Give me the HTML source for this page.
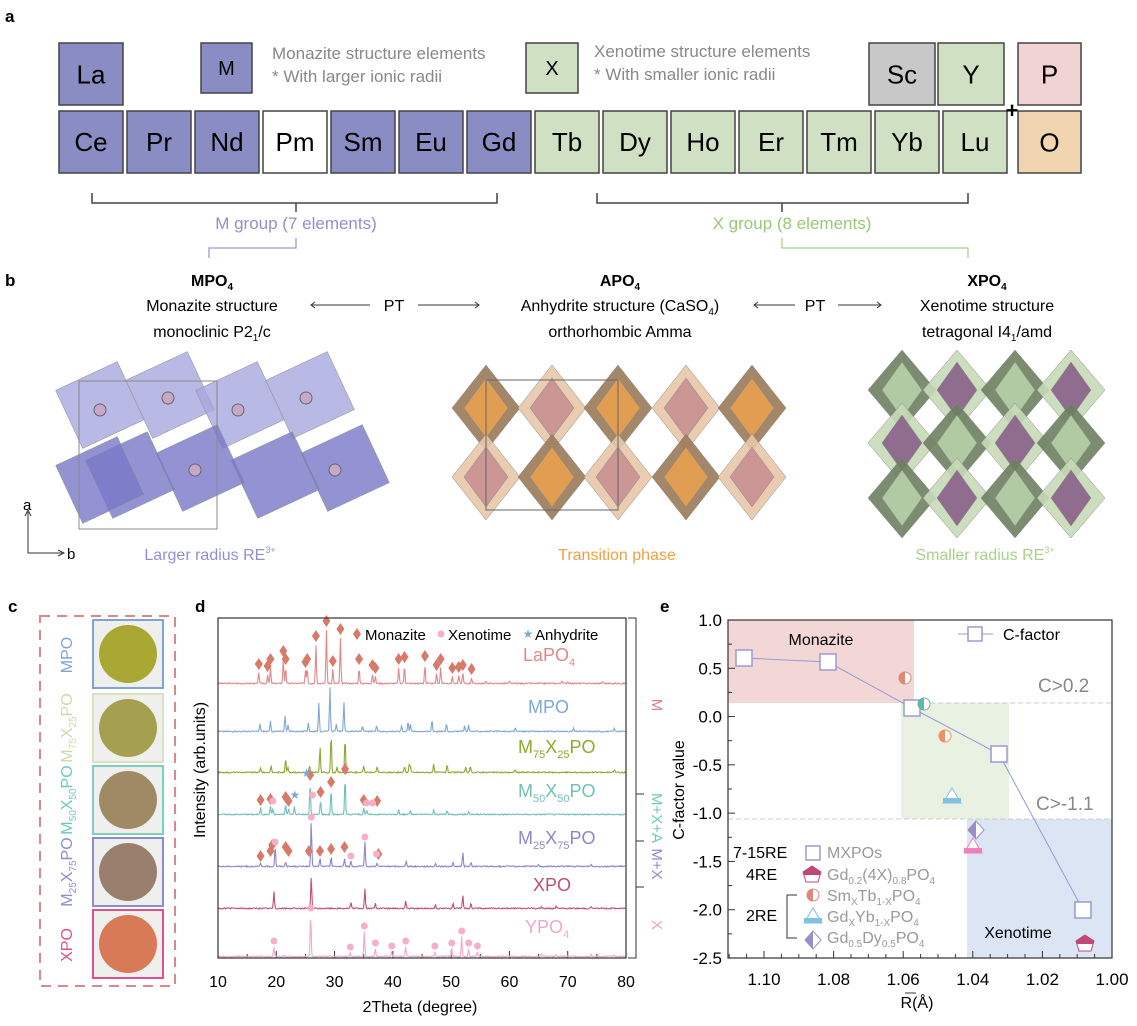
<!DOCTYPE html><html><head><meta charset="utf-8"><style>
body{margin:0;background:#fff}
svg{display:block;font-family:"Liberation Sans",sans-serif}
</style></head><body>
<svg id="s" width="1137" height="1026" viewBox="0 0 1137 1026" xmlns="http://www.w3.org/2000/svg">
<g font-weight="bold" font-size="17"><text x="5" y="22">a</text><text x="5" y="286">b</text><text x="8" y="612">c</text><text x="195" y="612">d</text><text x="660" y="612">e</text></g>
<g id="pa" stroke="#444" stroke-width="1.5" font-size="26" text-anchor="middle"></g>
<g font-size="17" fill="#888">
<text x="272" y="59">Monazite structure elements</text><text x="272" y="82">* With larger ionic radii</text>
<text x="594" y="57">Xenotime structure elements</text><text x="594" y="80">* With smaller ionic radii</text></g>
<text x="1012" y="118" font-size="22" font-weight="bold" text-anchor="middle">+</text>
<g fill="none" stroke="#444" stroke-width="1.5">
<path d="M92 193V203H497V193M296 203V212"/><path d="M597 193V203H968V193M782 203V212"/></g>
<path d="M296 238V248H209V258" fill="none" stroke="#9a9ad6" stroke-width="1.3"/>
<path d="M782 238V248H968V258" fill="none" stroke="#a8d08a" stroke-width="1.3"/>
<text x="296" y="229" font-size="17" fill="#9090cc" text-anchor="middle">M group (7 elements)</text>
<text x="792" y="229" font-size="17" fill="#98c878" text-anchor="middle">X group (8 elements)</text>
<g id="pb"></g>
<g font-size="16" text-anchor="middle">
<text x="212" y="286" font-weight="bold">MPO<tspan font-size="10" dy="4">4</tspan></text>
<text x="212" y="311">Monazite structure</text><text x="212" y="337">monoclinic P2<tspan font-size="10" dy="4">1</tspan><tspan dy="-4">/c</tspan></text>
<text x="620" y="286" font-weight="bold">APO<tspan font-size="10" dy="4">4</tspan></text>
<text x="620" y="311">Anhydrite structure (CaSO<tspan font-size="10" dy="4">4</tspan><tspan dy="-4">)</tspan></text><text x="620" y="337">orthorhombic Amma</text>
<text x="987" y="286" font-weight="bold">XPO<tspan font-size="10" dy="4">4</tspan></text>
<text x="987" y="311">Xenotime structure</text><text x="987" y="337">tetragonal I4<tspan font-size="10" dy="4">1</tspan><tspan dy="-4">/amd</tspan></text>
<text x="394" y="311">PT</text><text x="815" y="311">PT</text></g>
<g stroke="#333" stroke-width="1" fill="none"><path d="M312 305H370M315 302L311 305L315 308M418 305H478M475 302L479 305L475 308M755 305H795M758 302L754 305L758 308M838 305H880M877 302L881 305L877 308"/>
<path d="M28 512V553H62M25 516L28 510L31 516M58 550L64 553L58 556"/></g>
<text x="23" y="510" font-size="15">a</text><text x="67" y="559" font-size="15">b</text>
<g font-size="16" text-anchor="middle"><text x="210" y="560" fill="#9090d0">Larger radius RE<tspan font-size="9" dy="-7">3+</tspan></text>
<text x="617" y="560" fill="#f0a040">Transition phase</text>
<text x="985" y="560" fill="#a8d08a">Smaller radius RE<tspan font-size="9" dy="-7">3+</tspan></text></g>
<!-- panel c -->
<rect x="40" y="616" width="135" height="370" fill="none" stroke="#d88a8a" stroke-width="2" stroke-dasharray="10,7"/>
<g id="pc"></g>
<g font-size="16" text-anchor="middle">
<text transform="translate(72,655) rotate(-90)" fill="#7fa3d6">MPO</text>
<text transform="translate(72,728) rotate(-90)" fill="#c8dca8">M<tspan font-size="10" dy="4">75</tspan><tspan dy="-4">X</tspan><tspan font-size="10" dy="4">25</tspan><tspan dy="-4">PO</tspan></text>
<text transform="translate(72,800) rotate(-90)" fill="#6ccab8">M<tspan font-size="10" dy="4">50</tspan><tspan dy="-4">X</tspan><tspan font-size="10" dy="4">50</tspan><tspan dy="-4">PO</tspan></text>
<text transform="translate(72,872) rotate(-90)" fill="#8a8ed0">M<tspan font-size="10" dy="4">25</tspan><tspan dy="-4">X</tspan><tspan font-size="10" dy="4">75</tspan><tspan dy="-4">PO</tspan></text>
<text transform="translate(72,945) rotate(-90)" fill="#e0508a">XPO</text></g>
<!-- panel d -->
<g id="pd"></g>
<rect x="218" y="618" width="408" height="340" fill="none" stroke="#333" stroke-width="1.2"/>
<path d="M628 618H636V958H628M636 794H644M636 841H644M636 887H644" fill="none" stroke="#333"/>
<g font-size="15" text-anchor="middle">
<text transform="translate(652,705) rotate(90)" fill="#e08080">M</text>
<text transform="translate(652,818) rotate(90)" fill="#6ccab8">M+X+A</text>
<text transform="translate(652,864) rotate(90)" fill="#8a8ed0">M+X</text>
<text transform="translate(652,925) rotate(90)" fill="#f0a0c8">X</text></g>
<g font-size="15"><text x="365" y="640">Monazite</text><text x="448" y="640">Xenotime</text><text x="535" y="640">Anhydrite</text></g>
<text transform="translate(205,770) rotate(-90)" font-size="16" text-anchor="middle">Intensity (arb.units)</text>
<text x="420" y="1012" font-size="16" text-anchor="middle">2Theta (degree)</text>
<!-- panel e -->
<rect x="728" y="620" width="186" height="83" fill="#f3d7d7"/>
<rect x="901" y="703" width="108" height="116" fill="#e9f1e3"/>
<rect x="967" y="819" width="145" height="139" fill="#dce5f3"/>
<path d="M914 703H1112M728 819H1112" stroke="#ccc" stroke-dasharray="5,3"/>
<rect x="728" y="620" width="384" height="338" fill="none" stroke="#333" stroke-width="1.2"/>
<g id="pe"></g>
<text x="821" y="645" font-size="16" text-anchor="middle">Monazite</text>
<text x="1018" y="938" font-size="16" text-anchor="middle">Xenotime</text>
<text x="1003" y="640" font-size="16">C-factor</text>
<text x="1038" y="692" font-size="19" fill="#888">C&gt;0.2</text>
<text x="1036" y="810" font-size="19" fill="#888">C&gt;-1.1</text>
<g font-size="16"><text x="733" y="858">7-15RE</text><text x="746" y="880">4RE</text><text x="746" y="921">2RE</text>
<g fill="#999"><text x="827" y="858">MXPOs</text>
<text x="827" y="880">Gd<tspan font-size="10" dy="4">0.2</tspan><tspan dy="-4">(4X)</tspan><tspan font-size="10" dy="4">0.8</tspan><tspan dy="-4">PO</tspan><tspan font-size="10" dy="4">4</tspan></text>
<text x="827" y="901">Sm<tspan font-size="10" dy="4">X</tspan><tspan dy="-4">Tb</tspan><tspan font-size="10" dy="4">1-X</tspan><tspan dy="-4">PO</tspan><tspan font-size="10" dy="4">4</tspan></text>
<text x="827" y="922">Gd<tspan font-size="10" dy="4">X</tspan><tspan dy="-4">Yb</tspan><tspan font-size="10" dy="4">1-X</tspan><tspan dy="-4">PO</tspan><tspan font-size="10" dy="4">4</tspan></text>
<text x="827" y="943">Gd<tspan font-size="10" dy="4">0.5</tspan><tspan dy="-4">Dy</tspan><tspan font-size="10" dy="4">0.5</tspan><tspan dy="-4">PO</tspan><tspan font-size="10" dy="4">4</tspan></text></g></g>
<path d="M797 895H787V938H797" fill="none" stroke="#333"/>
<text transform="translate(684,790) rotate(-90)" font-size="16" text-anchor="middle">C-factor value</text>
<text x="917" y="1008" font-size="16" text-anchor="middle">R(Å)</text><path d="M905 993H916" stroke="#333"/>
</svg>
<script>
var NS="http://www.w3.org/2000/svg";
function el(p,t,a,tx){var e=document.createElementNS(NS,t);for(var k in a)e.setAttribute(k,a[k]);if(tx!==undefined)e.textContent=tx;document.getElementById(p).appendChild(e);return e;}
function ts(parent,txt,attrs){var e=document.createElementNS(NS,"tspan");for(var k in attrs)e.setAttribute(k,attrs[k]);e.textContent=txt;parent.appendChild(e);}
// panel a
var M="#8a8cc4",G="#cfe0c3";
var row2=["Ce","Pr","Nd","Pm","Sm","Eu","Gd","Tb","Dy","Ho","Er","Tm","Yb","Lu"];
row2.forEach(function(s,i){var x=59+i*68,c=i<7?(s=="Pm"?"#fff":M):G;el("pa","rect",{x:x,y:111,width:64,height:62,fill:c});el("pa","text",{x:x+32,y:151,stroke:"none"},s);});
[[59,43,64,62,M,"La"],[869,43,66,62,"#c8c8c8","Sc"],[938,43,66,62,G,"Y"],[1018,43,63,62,"#f2d3d3","P"],[1018,111,63,62,"#f0d5b0","O"],[201,43,51,50,M,"M"],[526,43,52,50,G,"X"]].forEach(function(b){el("pa","rect",{x:b[0],y:b[1],width:b[2],height:b[3],fill:b[4]});var fs=b[2]<60?20:26;el("pa","text",{x:b[0]+b[2]/2,y:b[1]+b[3]/2+fs*0.36,stroke:"none","font-size":fs},b[5]);});
// panel b structures
function dia(cx,cy,hw,hh,f,op){el("pb","polygon",{points:(cx)+","+(cy-hh)+" "+(cx+hw)+","+cy+" "+cx+","+(cy+hh)+" "+(cx-hw)+","+cy,fill:f,"fill-opacity":op,stroke:"#888","stroke-width":0.5});}
// monazite
[[100,405],[170,395],[240,405],[310,395]].forEach(function(p){el("pb","rect",{x:p[0]-34,y:p[1]-32,width:68,height:64,fill:"#a8a8e0","fill-opacity":0.8,stroke:"#999","stroke-width":0.6,transform:"rotate(-25 "+p[0]+" "+p[1]+")"});});
[[130,475],[200,468],[275,475],[345,468],[100,480]].forEach(function(p){el("pb","rect",{x:p[0]-34,y:p[1]-32,width:68,height:64,fill:"#7878c8","fill-opacity":0.8,stroke:"#999","stroke-width":0.6,transform:"rotate(-25 "+p[0]+" "+p[1]+")"});});
el("pb","rect",{x:79,y:381,width:138,height:148,fill:"none",stroke:"#888"});
[[100,410],[168,398],[238,410],[306,398],[195,470],[335,470]].forEach(function(p){el("pb","circle",{cx:p[0],cy:p[1],r:6,fill:"#c8a8c8",stroke:"#666"});});
// anhydrite
var ax=[486,552,618,686,752];
ax.forEach(function(x,i){dia(x,408,34,43,i%2?"#e8c8a8":"#9a7a58",0.9);dia(x,408,22,30,i%2?"#c89090":"#e8a050",0.9);dia(x,477,34,43,i%2?"#9a7a58":"#e8c8a8",0.9);dia(x,477,22,30,i%2?"#e8a050":"#c89090",0.9);});
el("pb","rect",{x:486,y:380,width:132,height:130,fill:"none",stroke:"#666"});
// xenotime
var xx=[902,957,1015,1071];
xx.forEach(function(x,i){[390,443,498].forEach(function(y,j){var dark=(i+j)%2==0;dia(x,y,34,40,dark?"#6d8060":"#c8dab8",0.9);dia(x,y,20,28,dark?"#b8d0a8":"#8a6088",0.9);});});
// panel c
[["#7fa3d6","#a8a832",620],["#d8e4c0","#a5a050",694],["#7ccfc0","#a08a65",766],["#8a8ed0","#9a7f6e",838],["#e0508a","#d87a55",910]].forEach(function(c){el("pc","rect",{x:93,y:c[2],width:70,height:68,fill:"#efefed",stroke:c[0],"stroke-width":2});el("pc","circle",{cx:128,cy:c[2]+34,r:29,fill:c[1]});});
// panel d
function X(d){return 218+(d-10)*5.829;}
for(var t=10;t<=80;t+=5){el("pd","line",{x1:X(t),y1:958,x2:X(t),y2:t%10?954:951,stroke:"#333"});if(t%10==0)el("pd","text",{x:X(t),y:987,"font-size":16,"text-anchor":"middle"},t);}
var S=[
["#e08888",684,[[17,11],[18.5,9],[19,16],[21.2,24],[21.6,16],[25,13],[25.3,16],[26.8,39],[28.6,54],[29.7,14],[31,46],[34.2,16],[36.5,10],[37,7],[41,16],[42,18],[45.5,19],[47.5,10],[48.2,16],[50.2,7],[51.3,8],[52,10],[53.5,6],[56,2],[60,2],[69,3],[70,2],[76,2]],"LaPO",523,661,"4"],
["#7fa8d8",732,[[17.2,8],[19,10],[21.5,17],[22,7],[25.5,9],[27.3,29],[29.2,45],[30.3,8],[31.6,30],[34.8,6],[37.2,6],[41.5,6],[42.6,10],[43,8],[46.7,12],[49.2,8],[52.3,6],[53,7],[61,3],[71,3],[78,3]],"MPO",528,713,""],
["#8caa30",773,[[17.3,5],[19.1,7],[21.6,14],[22,5],[25.7,7],[27.5,26],[29.4,39],[30.4,5],[31.8,36],[35,7],[37.3,6],[42,6],[42.8,8],[43,6],[47,9],[49.3,8],[52.5,5],[53.3,6],[61,3],[78,3]],"M75X25PO",518,753,""],
["#70c0b8",815,[[17.3,7],[19,8],[19.4,6],[21.6,10],[22.1,6],[23.1,8],[25.8,32],[27.6,15],[29.4,25],[31.8,38],[35,7],[35.5,4],[41,5],[43,4],[47,4],[49.3,4],[53,3]],"M50X50PO",518,797,""],
["#8a88cc",867,[[17.3,3],[19.8,20],[21.6,5],[26,45],[27.5,8],[29.4,10],[31.7,8],[32.8,6],[35.2,25],[37.3,4],[42.3,6],[47.3,3],[50.3,4],[52,14],[53.4,4],[65,2],[74,2]],"M25X75PO",518,844,""],
["#c05070",909,[[19.6,17],[26,32],[32.8,6],[35.2,20],[37,5],[42.2,7],[47.3,4],[50.3,5],[52,13],[53.4,5],[65.5,2],[68,2],[74,2]],"XPO",533,891,""],
["#f0a8c8",957,[[19.6,10],[25.9,43],[32.7,4],[35.1,25],[37,8],[39.8,5],[42.2,10],[47.2,5],[50.1,8],[51.8,20],[53,8],[54.5,5],[65.5,3],[68,2],[74,2],[78,2]],"YPO",525,933,"4"]];
var seed=3;function rnd(){seed=(seed*9301+49297)%233280;return seed/233280;}
S.forEach(function(s){var d="M218,"+s[1];for(var px=218;px<=626;px+=0.7){var deg=10+(px-218)/5.829,h=rnd()*1.2;s[2].forEach(function(p){var dx=(deg-p[0])/0.12;h+=p[1]*Math.exp(-dx*dx);});d+=" L"+px.toFixed(1)+","+(s[1]-h).toFixed(1);}el("pd","path",{d:d,fill:"none",stroke:s[0],"stroke-width":1.1});
var lab=s[3],t=el("pd","text",{x:s[4],y:s[5],"font-size":18,fill:s[0]});
var a=lab.match(/M(\d+)X(\d+)PO/);
if(a){ts(t,"M",{});ts(t,a[1],{"font-size":11,dy:5});ts(t,"X",{dy:-5});ts(t,a[2],{"font-size":11,dy:5});ts(t,"PO",{dy:-5});}
else{ts(t,lab,{});if(s[6])ts(t,"4",{"font-size":11,dy:5});}});
function dmd(x,y){el("pd","polygon",{points:x+","+(y-6)+" "+(x+4)+","+y+" "+x+","+(y+6)+" "+(x-4)+","+y,fill:"#d87a6a"});}
function cir(x,y){el("pd","circle",{cx:x,cy:y,r:3.5,fill:"#f5b0c8"});}
function star(x,y){el("pd","text",{x:x,y:y+4,"font-size":12,fill:"#7fa8d8","text-anchor":"middle"},"★");}
S[0][2].forEach(function(p){if(p[1]>=6)dmd(X(p[0]),684-p[1]-9);});
[[17.3,7],[19,8],[21.6,10],[22.1,6],[25.8,32],[27.6,15],[29.4,25],[31.8,38],[35,7],[37.3,6]].forEach(function(p){dmd(X(p[0]),815-p[1]-8);});
[[19.4,6],[26.2,12],[35.5,4],[36.5,4]].forEach(function(p){cir(X(p[0]),815-p[1]-8);});star(X(25.2),815-42);star(X(23.2),815-20);
[[17.3,3],[19,8],[19.3,14],[21.6,12],[22.1,8],[25.6,8],[27.5,8],[29.4,10],[31.7,12],[37.5,5]].forEach(function(p){dmd(X(p[0]),867-p[1]-8);});
[[19.8,20],[26,45],[32.8,6],[35.2,25],[37.2,8]].forEach(function(p){cir(X(p[0]),867-p[1]-5);});
S[6][2].forEach(function(p){if(p[1]>=4&&p[0]<60)cir(X(p[0]),957-p[1]-6);});
dmd(357,634);cir(441,634);star(528,634);
// panel e
function EX(r){return 764+(1.10-r)*3480;}function EY(c){return 620+(1-c)*96.57;}
for(var i=0;i<=14;i++){var c=1-i*0.25,y=EY(c);el("pe","line",{x1:728,y1:y,x2:i%2?732:735,y2:y,stroke:"#333"});if(i%2==0)el("pe","text",{x:722,y:y+6,"font-size":17,"text-anchor":"end"},c.toFixed(1));}
for(var k=0;k<=22;k++){var r=1.11-k*0.005,x=EX(r);var maj=(k%4==2);el("pe","line",{x1:x,y1:958,x2:x,y2:maj?951:954,stroke:"#333"});if(maj)el("pe","text",{x:x,y:985,"font-size":17,"text-anchor":"middle"},r.toFixed(2));}
var pts=[[744,658],[828,662],[912,708],[999,754],[1083,910]];
el("pe","polyline",{points:pts.map(function(p){return p.join(",")}).join(" "),fill:"none",stroke:"#9a9ad0","stroke-width":1});
pts.forEach(function(p){el("pe","rect",{x:p[0]-8,y:p[1]-8,width:16,height:16,fill:"#fff",stroke:"#9a9ad0","stroke-width":1.5});});
el("pe","line",{x1:958,y1:634,x2:993,y2:634,stroke:"#9a9ad0"});el("pe","rect",{x:968,y:627,width:14,height:14,fill:"#fff",stroke:"#9a9ad0","stroke-width":1.5});
el("pe","rect",{x:806,y:846,width:14,height:14,fill:"#fff",stroke:"#9a9ad0","stroke-width":1.5});
function half(x,y,c){el("pe","circle",{cx:x,cy:y,r:6,fill:"#fff",stroke:c});el("pe","path",{d:"M"+x+","+(y-6)+"A6,6 0 0 0 "+x+","+(y+6)+"Z",fill:c});}
half(905,678,"#e08878");half(924,704,"#60b8a8");half(945,736,"#f09060");half(813,895,"#e08878");
function tri(x,y,c){el("pe","polygon",{points:x+","+(y-9)+" "+(x+9)+","+(y+6)+" "+(x-9)+","+(y+6),fill:"#fff",stroke:c});el("pe","rect",{x:x-9,y:y+1,width:18,height:5,fill:c});}
tri(952,797,"#80c0e0");tri(973,847,"#f080b8");tri(813,917,"#80c0e0");
function dd(x,y){el("pe","polygon",{points:x+","+(y-9)+" "+(x+8)+","+y+" "+x+","+(y+9)+" "+(x-8)+","+y,fill:"#fff",stroke:"#9a90c8"});el("pe","polygon",{points:x+","+(y-9)+" "+x+","+(y+9)+" "+(x-8)+","+y,fill:"#9a90c8"});}
dd(976,830);dd(813,940);
function pent(x,y){el("pe","polygon",{points:x+","+(y-8)+" "+(x+9)+","+(y-2)+" "+(x+6)+","+(y+8)+" "+(x-6)+","+(y+8)+" "+(x-9)+","+(y-2),fill:"#fff",stroke:"#c04878"});el("pe","polygon",{points:x+","+(y-8)+" "+(x+9)+","+(y-2)+" "+(x+8)+","+(y+1)+" "+(x-8)+","+(y+1)+" "+(x-9)+","+(y-2),fill:"#c04878"});}
pent(1085,943);pent(812,874);
</script>
</body></html>
